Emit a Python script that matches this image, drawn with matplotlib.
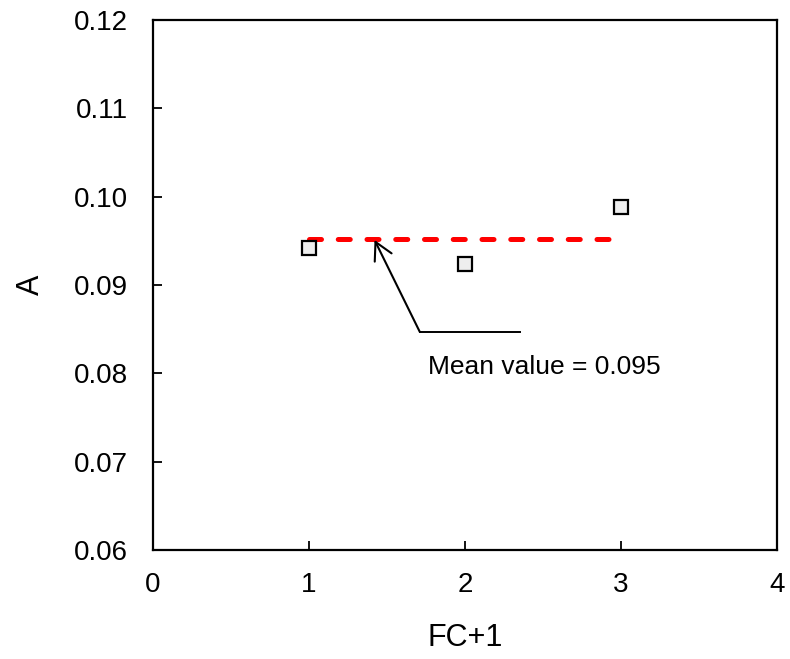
import matplotlib.pyplot as plt
import numpy as np

plt.rcParams['font.family'] = ['Liberation Sans', 'DejaVu Sans']

fc = [1, 2, 3]
a_vals = [0.0942, 0.0924, 0.0988]
mean_val = 0.0952
mean_x = [1, 3]

fig = plt.figure(figsize=(7.9, 6.59), dpi=100)
ax = fig.add_axes([153/790, 1 - 550/659, 624/790, 530/659])

ax.plot(mean_x, [mean_val, mean_val], color='red', linestyle=(0, (2.4, 3.35)),
        linewidth=3.6, dash_capstyle='round')
ax.plot(fc, a_vals, linestyle='none', marker='s', markersize=10,
        markerfacecolor='#eeeeee', markeredgecolor='black', markeredgewidth=1.6)

# leader line + arrow
ax.plot([1.71, 2.35], [0.0847, 0.0847], color='black', linewidth=1.4)
ax.annotate('', xy=(1.42, 0.0951), xytext=(1.71, 0.0847),
            arrowprops=dict(arrowstyle='->,head_length=0.5,head_width=0.27',
                            color='black', lw=1.5, mutation_scale=25,
                            shrinkA=0, shrinkB=0))
ax.text(1.76, 0.0807, 'Mean value = 0.095', fontsize=19, va='center', ha='left')

ax.set_xlim(0, 4)
ax.set_ylim(0.06, 0.12)
ax.set_xticks([0, 1, 2, 3, 4])
ax.set_yticks(np.arange(0.06, 0.1201, 0.01))
ax.set_yticklabels(['0.06', '0.07', '0.08', '0.09', '0.10', '0.11', '0.12'])
ax.tick_params(direction='in', length=6.5, width=1.3, labelsize=20)
ax.tick_params(axis='y', pad=18)
ax.tick_params(axis='x', pad=16)
for s in ax.spines.values():
    s.set_linewidth(1.6)
ax.set_xlabel('FC+1', fontsize=22)
ax.set_ylabel('A', fontsize=22)
ax.xaxis.set_label_coords(0.5, -0.137)
ax.yaxis.set_label_coords(-0.172, 0.5)

fig.savefig('out.png', dpi=100)
